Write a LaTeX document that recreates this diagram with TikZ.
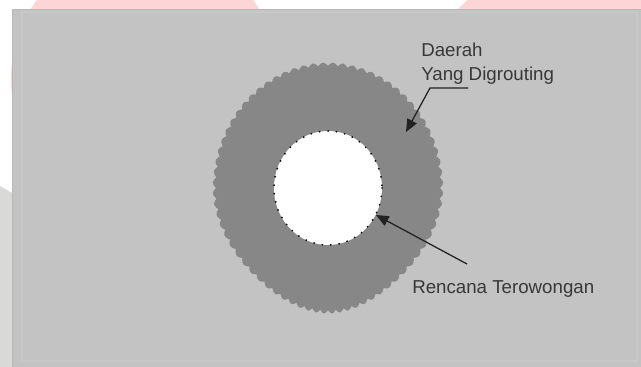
\documentclass[tikz,border=0pt]{standalone}
\usepackage{fontspec}
\setmainfont{Liberation Sans}
\usetikzlibrary{arrows.meta, positioning, calc}
\definecolor{pinkMark}{HTML}{FCD6D6}
\definecolor{stripGray}{HTML}{D9D9D7}
\definecolor{panelGray}{HTML}{C3C3C3}
\definecolor{panelEdge}{HTML}{B8B8B8}
\definecolor{frameLine}{HTML}{C8C8C8}
\definecolor{groutGray}{HTML}{878787}
\definecolor{inkDark}{HTML}{222222}
\definecolor{textGray}{HTML}{383838}
\tikzset{
  tag/.style={inner sep=0pt, text=textGray, font=\fontsize{13.3}{16}\selectfont},
  arrow/.style={-{Triangle[length=9pt, width=7.5pt]}, draw=inkDark, line width=0.9pt},
}

\begin{document}
\begin{tikzpicture}[x=0.025cm, y=-0.025cm]
\useasboundingbox (0,0) rectangle (641,367);
% watermark behind the panel
\fill[pinkMark] (145,79) circle (134);
\fill[pinkMark] (600,150) circle (200);
\fill[stripGray] (0,186) -- (14,194) -- (14,367) -- (0,367) -- cycle;
% panel
\fill[panelGray, draw=panelEdge, line width=0.4pt] (12,9) rectangle (641,367);
\draw[frameLine, line width=0.8pt] (22,12) rectangle (637,361);
% grouted zone
\fill[groutGray] plot[domain=0:360, samples=721, variable=\t]
  ({328+112*(1-0.2*max(sin(\t),0)^2)*(1+0.028*abs(sin(36*\t)))*cos(\t)},
   {188+122*(1+0.028*abs(sin(36*\t)))*sin(\t)}) -- cycle;
% planned tunnel
\fill[white] (328,188) ellipse [x radius=54, y radius=57];
\draw[black, line width=1.4pt, line cap=round, dash pattern=on 0pt off 6pt]
  (328,188) ellipse [x radius=54, y radius=57];
% labels
\node[tag, anchor=base west] (daerah) at (421,57) {Daerah};
\node[tag, anchor=base west] (yang) at ($(daerah.base west)+(0,24)$) {Yang Digrouting};
\node[tag, anchor=base west] (rencana) at (412,294) {Rencana Terowongan};
% leaders
\coordinate (hook) at (468,88);
\coordinate (bend) at (430,88);
\coordinate (zone) at (406,132);
\coordinate (lead) at (467,264);
\coordinate (rim) at (376,215);
\draw[arrow] (hook) -- (bend) -- (zone);
\draw[arrow] (lead) -- (rim);
\end{tikzpicture}
\end{document}
